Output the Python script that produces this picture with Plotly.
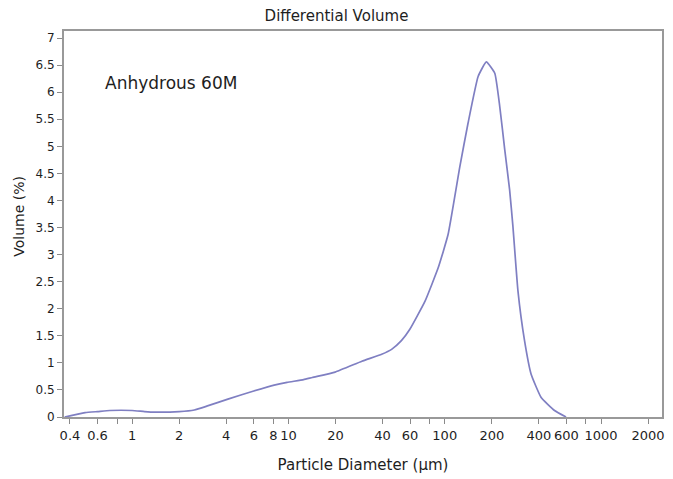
import plotly.graph_objects as go

# Data
diameter_um = [0.37, 0.4, 0.5, 0.6, 0.72, 1.0, 1.2, 1.4, 2.0, 2.5, 3.0, 4.1, 6.0, 8.1,
               9.8, 12.5, 14.2, 19.9, 29.5, 39.5, 45.7, 52.8, 59.8, 74.8, 90.9, 105,
               125, 141, 163.5, 184.5, 209, 225, 242, 260, 273, 294, 324, 357, 414,
               504, 597]
volume_pct = [0.0, 0.02, 0.08, 0.10, 0.12, 0.12, 0.10, 0.09, 0.10, 0.13, 0.20, 0.33,
              0.48, 0.59, 0.64, 0.69, 0.73, 0.83, 1.03, 1.16, 1.25, 1.41, 1.62, 2.14,
              2.76, 3.37, 4.63, 5.43, 6.29, 6.56, 6.35, 5.73, 4.94, 4.20, 3.52, 2.33,
              1.41, 0.79, 0.36, 0.12, 0.0]

x_tick_vals = [0.4, 0.6, 0.8, 1, 2, 4, 6, 8, 10, 20, 40, 60, 80, 100, 200, 400, 600,
               800, 1000, 2000]
x_tick_text = ["0.4", "0.6", "", "1", "2", "4", "6", "8", "10", "20", "40", "60", "",
               "100", "200", "400", "600", "", "1000", "2000"]
y_tick_vals = [0, 0.5, 1, 1.5, 2, 2.5, 3, 3.5, 4, 4.5, 5, 5.5, 6, 6.5, 7]
y_tick_text = ["0", "0.5", "1", "1.5", "2", "2.5", "3", "3.5", "4", "4.5", "5", "5.5",
               "6", "6.5", "7"]

FONT = "DejaVu Sans, Verdana, sans-serif"
TXT = "#1e1e1e"

fig = go.Figure()
fig.add_trace(go.Scatter(
    x=diameter_um, y=volume_pct, mode="lines",
    line=dict(color="#7f7fc2", width=1.7, shape="spline", smoothing=0.4),
    hoverinfo="x+y", showlegend=False,
))

fig.update_layout(
    width=673, height=479,
    margin=dict(l=64, r=8, t=31, b=62),
    paper_bgcolor="white", plot_bgcolor="white",
    font=dict(family=FONT, size=12, color=TXT),
    title=dict(text="Differential Volume", x=0.5, xanchor="center",
               y=1 - 16 / 479, yanchor="middle", font=dict(size=15, family=FONT, color=TXT)),
    annotations=[
        dict(text="Anhydrous 60M", xref="paper", yref="paper",
             x=(103 - 64) / 601, xanchor="left",
             y=(417 - 83) / 386, yanchor="middle", showarrow=False,
             font=dict(size=17, family=FONT, color=TXT)),
        dict(text="Volume (%)", xref="paper", yref="paper", textangle=-90,
             x=-(64 - 18.5) / 601, xanchor="center",
             y=(417 - 216) / 386, yanchor="middle", showarrow=False,
             font=dict(size=14, family=FONT, color=TXT)),
    ],
)

fig.update_xaxes(
    type="log", range=[-0.436, 3.39],
    tickvals=x_tick_vals, ticktext=x_tick_text, tickangle=0,
    ticks="outside", ticklen=5, tickcolor="#8a8a8a", tickwidth=1,
    showline=True, linecolor="#999999", linewidth=2, mirror=True,
    showgrid=False, zeroline=False,
    tickfont=dict(size=13, family=FONT, color=TXT),
    title=dict(text="Particle Diameter (µm)", standoff=18,
               font=dict(size=15, family=FONT, color=TXT)),
)
fig.update_yaxes(
    range=[0, 7.13],
    tickvals=y_tick_vals, ticktext=y_tick_text,
    ticks="outside", ticklen=5, tickcolor="#8a8a8a", tickwidth=1,
    showline=True, linecolor="#999999", linewidth=2, mirror=True,
    showgrid=False, zeroline=False,
    tickfont=dict(size=12, family=FONT, color=TXT),
)

fig.write_html("out.html", config={"displayModeBar": False},
               post_script="document.body.style.margin='0';document.body.style.overflow='hidden';")
